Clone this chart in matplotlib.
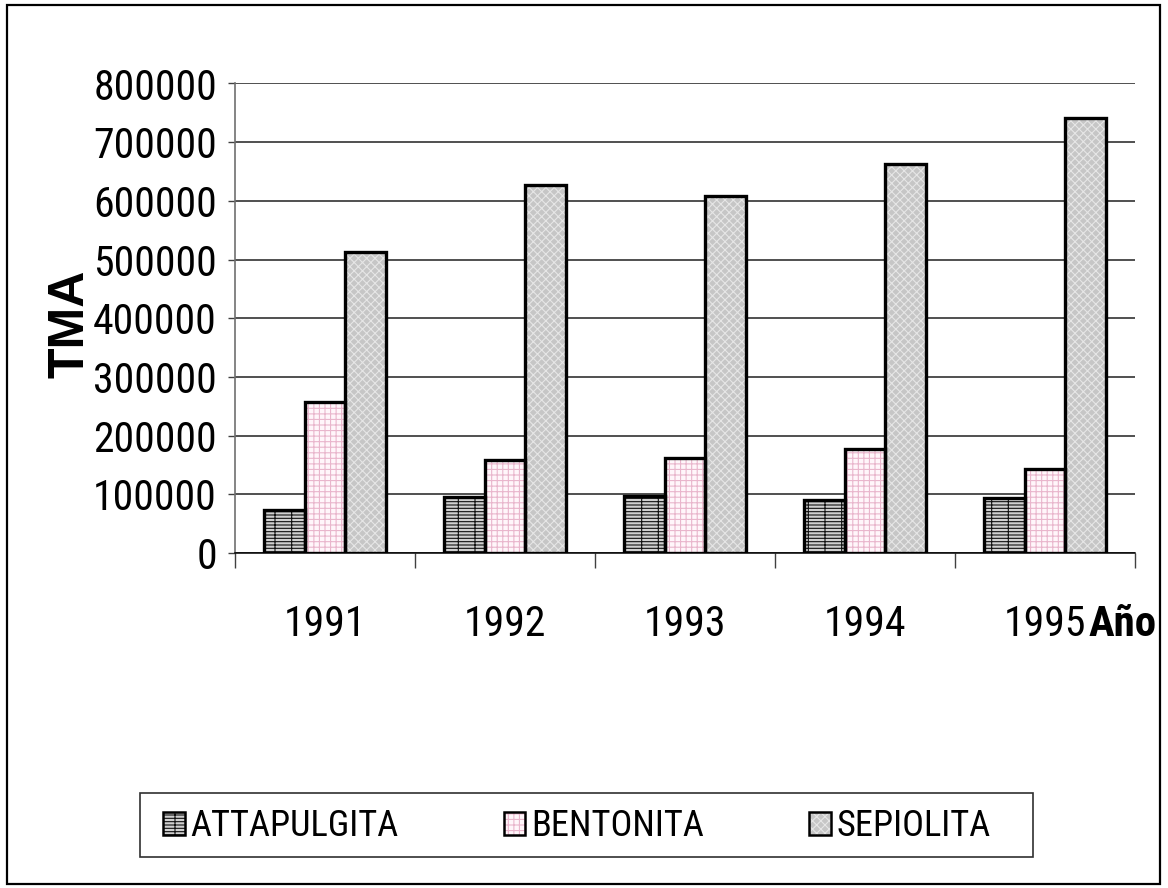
import matplotlib
matplotlib.use("Agg")
import matplotlib.pyplot as plt
import matplotlib.patches as mpatches
from matplotlib import font_manager
from matplotlib.legend_handler import HandlerTuple
import numpy as np

# Annual production (TMA) by clay type
years = ["1991", "1992", "1993", "1994", "1995"]
attapulgita = [72600, 95000, 97600, 90800, 93000]
bentonita = [257800, 157800, 162400, 177200, 143100]
sepiolita = [513400, 627000, 607700, 663400, 741800]
series_names = ["ATTAPULGITA", "BENTONITA", "SEPIOLITA"]
y_ticks = [0, 100000, 200000, 300000, 400000, 500000, 600000, 700000, 800000]

installed = {f.name for f in font_manager.fontManager.ttflist}
narrow_choices = ["Liberation Sans Narrow", "Arial Narrow", "Roboto Condensed",
                  "Arimo Narrow", "IBM Plex Sans Condensed", "Liberation Sans"]
main_font = next(n for n in narrow_choices + ["DejaVu Sans"] if n in installed or n == "DejaVu Sans")
plt.rcParams["font.family"] = [main_font, "DejaVu Sans"]
plt.rcParams["hatch.linewidth"] = 0.8

W, H = 1168, 888
fig = plt.figure(figsize=(W / 100, H / 100), dpi=100)
fig.patch.set_facecolor("white")
renderer = fig.canvas.get_renderer()


def size_for_width(text, target_px, weight="normal", family=None, ref=30.0, cap=None):
    t = fig.text(0, 0, text, fontsize=ref, fontweight=weight,
                 family=family or [main_font, "DejaVu Sans"])
    w = t.get_window_extent(renderer).width
    t.remove()
    fs = ref * target_px / w
    return min(fs, cap) if cap else fs


tick_fs = size_for_width("800000", 124, cap=33)
legend_fs = size_for_width("ATTAPULGITA", 208, cap=28)
year_fs = size_for_width("Año", 68, weight="bold", cap=33)


def fx(px):
    return px / W


def fy(py):
    return 1 - py / H


ax = fig.add_axes([fx(235), fy(553), fx(1135) - fx(235), fy(83.5) - fy(553)])

styles = [
    dict(face="#d0d0d0", hatch="-----|", hcol="#111111"),
    dict(face="#fff6fa", hatch="+++", hcol="#e9b6cc"),
    dict(face="#c6c6c6", hatch="xxxx", hcol="#e6e6e6"),
]
data = [attapulgita, bentonita, sepiolita]
x = np.arange(len(years))
bw = 0.225
offsets = [-bw, 0, bw]

for vals, st, off in zip(data, styles, offsets):
    ax.bar(x + off, vals, width=bw, color=st["face"], edgecolor=st["hcol"],
           hatch=st["hatch"], linewidth=0, zorder=2)
    ax.bar(x + off, vals, width=bw, fill=False, edgecolor="black",
           linewidth=2.4, zorder=3)

ax.set_xlim(-0.5, len(years) - 0.5)
ax.set_ylim(0, 800000)

ax.set_yticks(y_ticks)
ax.set_yticklabels([str(v) for v in y_ticks], fontsize=tick_fs)
ax.tick_params(axis="y", length=5, width=1, color="#404040", pad=8)
ax.yaxis.grid(True, color="#202020", linewidth=1.1, zorder=1)
ax.set_axisbelow(True)

ax.set_xticks(x)
ax.set_xticklabels(years, fontsize=tick_fs)
ax.tick_params(axis="x", which="major", length=0, pad=37)
ax.set_xticks(np.arange(len(years) + 1) - 0.5, minor=True)
ax.tick_params(axis="x", which="minor", length=11, width=1, color="#404040")

for s in ("top", "right"):
    ax.spines[s].set_visible(False)
ax.spines["left"].set_color("#707070")
ax.spines["left"].set_linewidth(1.2)
ax.spines["bottom"].set_color("black")
ax.spines["bottom"].set_linewidth(1.1)

fig.text(fx(70), fy(324), "TMA", rotation=90, ha="center", va="center",
         fontsize=36, fontweight="bold", family=["Liberation Sans", "DejaVu Sans"])
fig.text(fx(1089), fy(553) - 37 / 72 * 100 / H, "Año", ha="left", va="top",
         fontsize=year_fs, fontweight="bold")

# legend box
fig.patches.append(mpatches.Rectangle((fx(140), fy(857)), fx(1033) - fx(140), fy(793) - fy(857),
                                      transform=fig.transFigure, facecolor="white",
                                      edgecolor="#303030", linewidth=1.2, zorder=0))

# legend swatches: hatched fill under a black outline
handles = [(mpatches.Patch(facecolor=st["face"], edgecolor=st["hcol"], hatch=st["hatch"],
                           linewidth=0),
            mpatches.Patch(fill=False, edgecolor="black", linewidth=1.8))
           for st in styles]
legend_px = legend_fs * 100 / 72
leg = fig.legend(handles=handles, labels=series_names, ncol=3, loc="center left",
                 handler_map={tuple: HandlerTuple(ndivide=1, pad=0)},
                 bbox_to_anchor=(fx(163), fy(826)),
                 fontsize=legend_fs, frameon=False,
                 handlelength=0.6, handleheight=0.6,
                 handletextpad=0.15, borderaxespad=0, borderpad=0,
                 columnspacing=105 / legend_px)

fig.patches.append(mpatches.Rectangle((fx(7), fy(884)), fx(1160) - fx(7), fy(5) - fy(884),
                                      transform=fig.transFigure, fill=False,
                                      edgecolor="black", linewidth=1.6))

fig.savefig("out.png", dpi=100)
